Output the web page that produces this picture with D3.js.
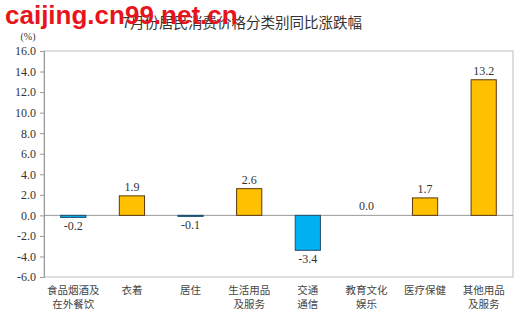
<!DOCTYPE html>
<html>
<head>
<meta charset="utf-8">
<script src="https://cdn.jsdelivr.net/npm/d3@7"></script>
<style>
  body { margin: 0; background: #fff; }
  svg { display: block; }
</style>
</head>
<body>
<div class="container"></div>
<script>
// data
var categories = ["食品烟酒及\n在外餐饮", "衣着", "居住", "生活用品\n及服务", "交通\n通信", "教育文化\n娱乐", "医疗保健", "其他用品\n及服务"];
var values = [-0.2, 1.9, -0.1, 2.6, -3.4, 0.0, 1.7, 13.2];
var yTicks = [16, 14, 12, 10, 8, 6, 4, 2, 0, -2, -4, -6];

var W = 526, H = 319;
var margin = { top: 51, right: 13, bottom: 42, left: 44 };
var width = W - margin.left - margin.right;
var height = H - margin.top - margin.bottom;

var svgRoot = d3.select(".container").append("svg")
  .attr("width", W)
  .attr("height", H);

var svg = svgRoot.append("g")
  .attr("transform", `translate(${margin.left},${margin.top})`);

var x = d3.scaleBand().domain(d3.range(categories.length)).range([0, width]).paddingInner(0.57).paddingOuter(0.285);
var y = d3.scaleLinear().domain([-6, 16]).range([height, 0]);

var serif = "'Liberation Serif', 'DejaVu Serif', serif";
var cjk = "'Noto Sans CJK SC', sans-serif";
// hyphen minus like the original, not the unicode minus
var fmt = d => d.toFixed(1);

// frame
svg.append("rect")
  .attr("x", 0).attr("y", 0)
  .attr("width", width).attr("height", height)
  .attr("fill", "none")
  .attr("stroke", "#bdbdbd")
  .attr("stroke-width", 1);

// y axis
var yAxis = d3.axisLeft(y).tickValues(yTicks).tickSize(4).tickPadding(4)
  .tickFormat(fmt);
var gy = svg.append("g").call(yAxis);
gy.select(".domain").attr("stroke", "#999");
gy.selectAll(".tick line").attr("stroke", "#999");
gy.selectAll(".tick text")
  .attr("fill", "#333")
  .style("font-family", serif)
  .style("font-size", "12px");

// zero line
svg.append("line")
  .attr("x1", 0).attr("x2", width)
  .attr("y1", y(0)).attr("y2", y(0))
  .attr("stroke", "#999");

// bars
svg.selectAll("rect.bar").data(values).enter().append("rect")
  .attr("class", "bar")
  .attr("x", (d, i) => x(i))
  .attr("width", x.bandwidth())
  .attr("y", d => y(Math.max(d, 0)))
  .attr("height", d => Math.abs(y(d) - y(0)))
  .attr("fill", d => d >= 0 ? "#FFC000" : "#00B0F0")
  .attr("stroke", d => d >= 0 ? "#5a3a10" : "#1f4f6f")
  .attr("stroke-width", 1);

// value labels
svg.selectAll("text.val").data(values).enter().append("text")
  .attr("class", "val")
  .attr("x", (d, i) => x(i) + x.bandwidth() / 2)
  .attr("y", d => d >= 0 ? y(d) - 5 : y(d) + 13)
  .attr("text-anchor", "middle")
  .attr("fill", "#333")
  .style("font-family", serif)
  .style("font-size", "12px")
  .text(fmt);

// category labels
var cat = svg.selectAll("text.cat").data(categories).enter().append("text")
  .attr("class", "cat")
  .attr("x", (d, i) => x(i) + x.bandwidth() / 2)
  .attr("y", height + 17)
  .attr("text-anchor", "middle")
  .attr("fill", "#444")
  .style("font-family", cjk)
  .style("font-size", "10.5px");
cat.each(function (d) {
  var t = d3.select(this);
  d.split("\n").forEach(function (line, k) {
    t.append("tspan")
      .attr("x", t.attr("x"))
      .attr("dy", k === 0 ? 0 : 14)
      .text(line);
  });
});

// unit
svgRoot.append("text")
  .attr("x", 28).attr("y", 40)
  .attr("text-anchor", "middle")
  .attr("fill", "#333")
  .style("font-family", serif)
  .style("font-size", "10px")
  .text("(%)");

// title
svgRoot.append("text")
  .attr("x", 242).attr("y", 28)
  .attr("text-anchor", "middle")
  .attr("fill", "#333")
  .style("font-family", cjk)
  .style("font-size", "14.5px")
  .text("7月份居民消费价格分类别同比涨跌幅");

// watermark
svgRoot.append("text")
  .attr("x", 5).attr("y", 24)
  .attr("fill", "#e8141c")
  .style("font-family", "'Liberation Sans', Arial, sans-serif")
  .style("font-weight", "bold")
  .style("font-size", "26px")
  .text("caijing.cn99.net.cn");
</script>
</body>
</html>
